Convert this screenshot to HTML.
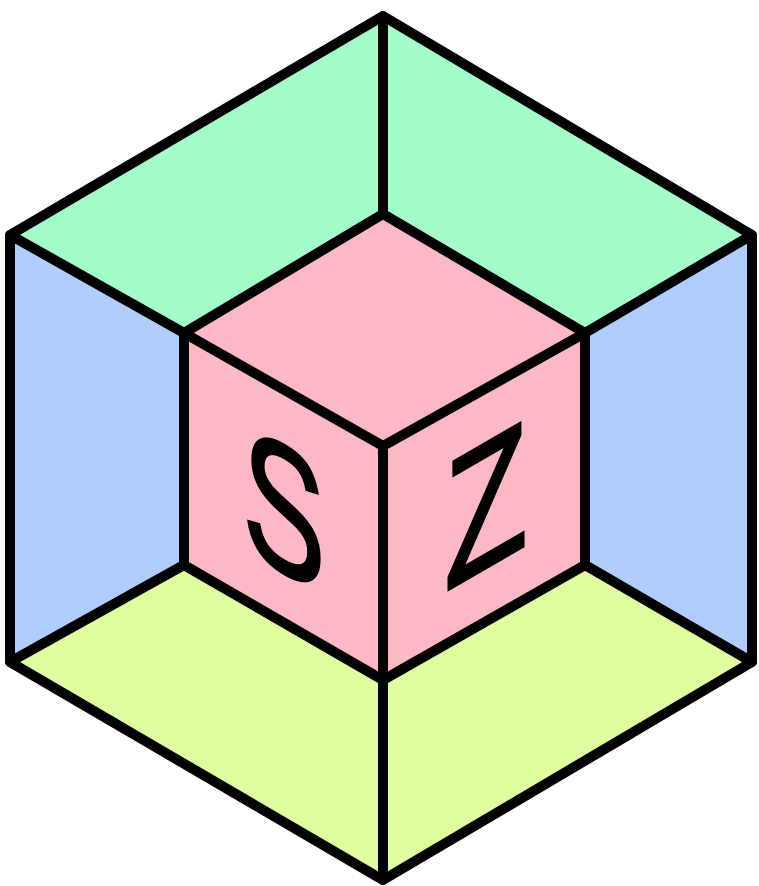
<!DOCTYPE html>
<html><head><meta charset="utf-8"><style>
html,body{margin:0;padding:0;background:#fff;width:759px;height:886px;overflow:hidden}
</style></head><body>
<svg width="759" height="886" viewBox="0 0 759 886">
<g stroke="#000" stroke-width="10" stroke-linejoin="round" stroke-linecap="round">
<polygon fill="#a3fdc9" points="383,16 752,235 585,333 383,214 184,333 10,235"/>
<polygon fill="#b0cdfd" points="10,235 184,333 184,565 10,662"/>
<polygon fill="#b0cdfd" points="752,235 585,333 585,565 752,662"/>
<polygon fill="#e0fda0" points="10,662 184,565 383,680 585,565 752,662 383,880"/>
<polygon fill="#fdb8c5" points="383,214 585,333 585,565 383,680 184,565 184,333"/>
<polyline fill="none" points="184,333 383,446 585,333"/>
<line x1="383" y1="446" x2="383" y2="680"/>
<line x1="383" y1="16" x2="383" y2="214"/>
<line x1="383" y1="680" x2="383" y2="880"/>
</g>
<g font-family="Liberation Sans, sans-serif" fill="#000" stroke="#000" stroke-width="3">
<text transform="translate(284,507) skewY(30) scale(0.68,1)" x="0" y="65" font-size="182" text-anchor="middle">S</text>
<text transform="translate(486,503) skewY(-30) scale(0.75,1)" x="0" y="65" font-size="182" text-anchor="middle">Z</text>
</g>
</svg>
</body></html>
